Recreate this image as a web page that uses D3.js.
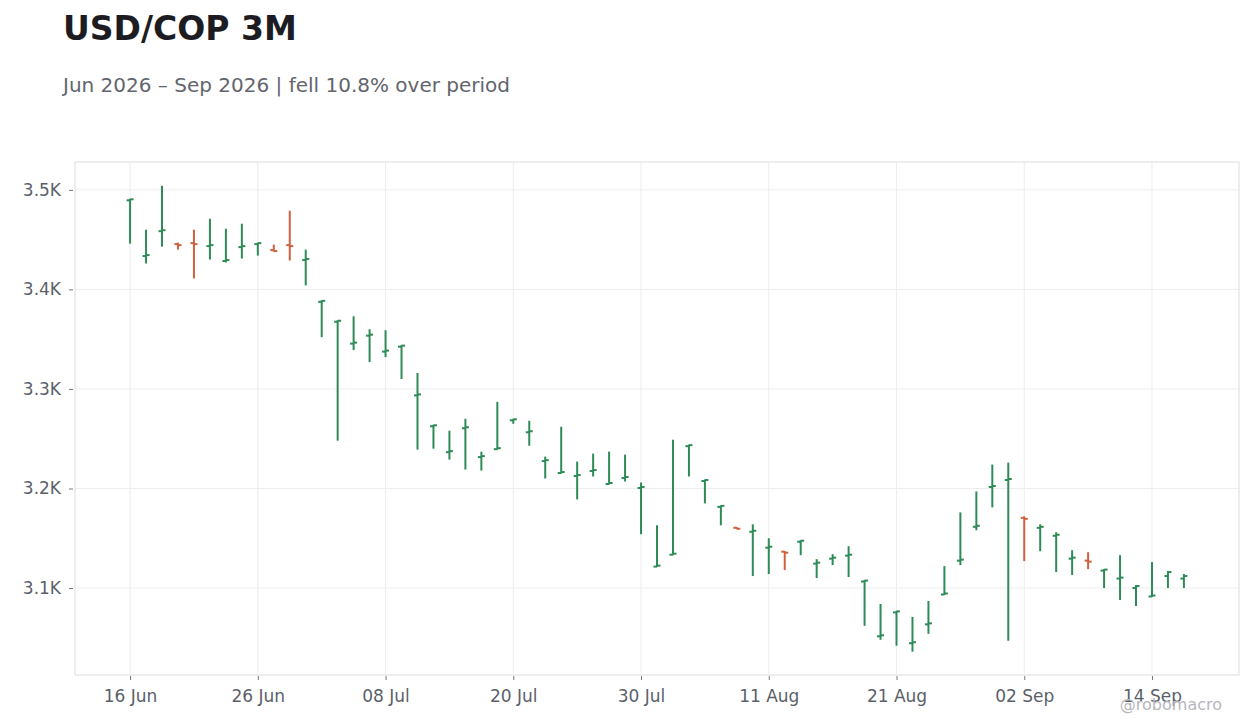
<!DOCTYPE html>
<html>
<head>
<meta charset="utf-8">
<script src="https://cdn.jsdelivr.net/npm/d3@7"></script>
<style>
  body { margin: 0; background: #fff; }
  text { font-family: "DejaVu Sans", sans-serif; }
</style>
</head>
<body>
<div id="chart"></div>
<script>
const dates = [
  "2026-06-16","2026-06-17","2026-06-18","2026-06-19","2026-06-22","2026-06-23","2026-06-24","2026-06-25","2026-06-26",
  "2026-06-29","2026-06-30","2026-07-01","2026-07-02","2026-07-03","2026-07-06","2026-07-07","2026-07-08","2026-07-09",
  "2026-07-10","2026-07-13","2026-07-14","2026-07-15","2026-07-16","2026-07-17","2026-07-20","2026-07-21","2026-07-22",
  "2026-07-23","2026-07-24","2026-07-27","2026-07-28","2026-07-29","2026-07-30","2026-07-31","2026-08-03","2026-08-04",
  "2026-08-05","2026-08-06","2026-08-07","2026-08-10","2026-08-11","2026-08-12","2026-08-13","2026-08-14","2026-08-17",
  "2026-08-18","2026-08-19","2026-08-20","2026-08-21","2026-08-24","2026-08-25","2026-08-26","2026-08-27","2026-08-28",
  "2026-08-31","2026-09-01","2026-09-02","2026-09-03","2026-09-04","2026-09-07","2026-09-08","2026-09-09","2026-09-10",
  "2026-09-11","2026-09-14","2026-09-15","2026-09-16"
];
const open = [3489.5,3433.5,3458.5,3445.5,3446.5,3443.5,3428.5,3442.5,3445.5,3439.5,3444.5,3429.5,3387.5,3367.5,3345.5,3353.5,3337.5,
  3342.5,3293.5,3262.5,3236.5,3260.5,3231.5,3239.5,3268.5,3256.5,3227.5,3215.5,3212.5,3217.5,3204.5,3210.5,3200.5,3121.5,3133.5,
  3242.5,3207.5,3181.5,3160.5,3156.5,3140.5,3136.5,3146.5,3124.5,3129.5,3132.5,3106.5,3051.5,3075.5,3044.5,3063.5,3093.5,3127.5,
  3161.5,3201.5,3208.5,3170.5,3160.5,3152.5,3129.5,3127.5,3117.5,3109.5,3100,3091.5,3112,3109.5];
const high = [3491,3460,3504,3447,3460,3471,3461,3466,3447,3445,3479,3440,3389,3369,3373,3360,3359,3344,3316,3264,3258,3270,3237,
  3287,3270,3268,3232,3262,3227,3235,3237,3234,3206,3163,3249,3244,3209,3183,3161,3164,3150,3137,3148,3129,3134,3142,3108,3084,
  3077,3071,3087,3122,3176,3197,3224,3226,3172,3164,3156,3138,3136,3119,3133,3103,3126,3117,3114];
const low = [3446,3426,3443,3440,3411,3430,3427,3431,3434,3438,3429,3404,3352,3248,3339,3327,3332,3310,3239,3240,3229,3219,3218,
  3239,3265,3243,3210,3215,3189,3212,3204,3207,3154,3121,3133,3212,3185,3163,3159,3112,3114,3118,3133,3110,3123,3111,3062,3048,
  3042,3036,3054,3093,3123,3158,3181,3047,3127,3137,3116,3113,3119,3100,3088,3082,3091,3100,3100];
const close = [3490.5,3434.5,3459.5,3444.5,3445.5,3444.5,3429.5,3443.5,3446.5,3438.5,3443.5,3430.5,3388.5,3368.5,3346.5,3354.5,
  3338.5,3343.5,3294.5,3263.5,3237.5,3261.5,3232.5,3240.5,3269.5,3257.5,3228.5,3216.5,3213.5,3218.5,3205.5,3211.5,3201.5,3122.5,
  3134.5,3243.5,3208.5,3182.5,3159.5,3157.5,3141.5,3135.5,3147.5,3125.5,3130.5,3133.5,3107.5,3052.5,3076.5,3045.5,3064.5,3094.5,
  3128.5,3162.5,3202.5,3209.5,3169.5,3161.5,3153.5,3130.5,3126.5,3118.5,3110.5,3102,3092.5,3116,3112];
const yTicks = [3100, 3200, 3300, 3400, 3500];
const xTickEvery = 8;

const width = 1260, height = 728;
const plotL = 75, plotR = 1239, plotT = 162, plotB = 675;

const svg = d3.select('#chart').append('svg')
    .attr('width', width)
    .attr('height', height);

const x = d3.scalePoint().domain(dates).range([plotL, plotR]).padding(3.45);
const y = d3.scaleLinear().domain([3012.6, 3528]).range([plotB, plotT]);

const xTickVals = dates.filter((d, i) => i % xTickEvery === 0);
const parse = d3.utcParse('%Y-%m-%d');
const fmtDate = d3.utcFormat('%d %b');

// gridlines
svg.append('g').selectAll('line')
    .data(xTickVals).enter().append('line')
    .attr('x1', d => x(d)).attr('x2', d => x(d))
    .attr('y1', plotT).attr('y2', plotB)
    .attr('stroke', '#ededed').attr('stroke-width', 1);
svg.append('g').selectAll('line')
    .data(yTicks).enter().append('line')
    .attr('x1', plotL).attr('x2', plotR)
    .attr('y1', d => y(d)).attr('y2', d => y(d))
    .attr('stroke', '#ededed').attr('stroke-width', 1);

// plot frame
svg.append('rect')
    .attr('x', plotL).attr('y', plotT)
    .attr('width', plotR - plotL).attr('height', plotB - plotT)
    .attr('fill', 'none').attr('stroke', '#dddddd');

// axes
const xAxis = svg.append('g')
    .attr('transform', `translate(0,${plotB + 1})`)
    .call(d3.axisBottom(x).tickValues(xTickVals).tickSize(4).tickPadding(10)
      .tickFormat(d => fmtDate(parse(d))));
const yAxis = svg.append('g')
    .attr('transform', `translate(${plotL - 2},0)`)
    .call(d3.axisLeft(y).tickValues(yTicks).tickSize(4).tickPadding(8)
      .tickFormat(d => (d / 1000).toFixed(1) + 'K'));
[xAxis, yAxis].forEach(a => {
  a.select('.domain').remove();
  a.selectAll('line').attr('stroke', '#777');
  a.selectAll('text').attr('fill', '#5b5f6a').style('font-size', '17px')
    .style('font-family', '"DejaVu Sans", sans-serif');
});

// OHLC bars: left tick = open, right tick = close
const green = '#2e8b57', red = '#d0603f';
const tick = 3.5;
const bars = svg.append('g').selectAll('g')
    .data(dates).enter().append('g')
    .attr('stroke', (d, i) => close[i] >= open[i] ? green : red)
    .attr('stroke-width', 2);
bars.append('line')
    .attr('x1', d => x(d)).attr('x2', d => x(d))
    .attr('y1', (d, i) => y(high[i])).attr('y2', (d, i) => y(low[i]));
bars.append('line')
    .attr('x1', d => x(d) - tick).attr('x2', d => x(d))
    .attr('y1', (d, i) => y(open[i])).attr('y2', (d, i) => y(open[i]));
bars.append('line')
    .attr('x1', d => x(d)).attr('x2', d => x(d) + tick)
    .attr('y1', (d, i) => y(close[i])).attr('y2', (d, i) => y(close[i]));

// titles
svg.append('text')
    .attr('x', 63).attr('y', 40)
    .style('font-size', '33px').style('font-weight', 'bold')
    .attr('fill', '#1c1c22')
    .text('USD/COP 3M');
svg.append('text')
    .attr('x', 63).attr('y', 92)
    .style('font-size', '20px')
    .attr('fill', '#62656d')
    .text('Jun 2026 – Sep 2026 | fell 10.8% over period');

// watermark
svg.append('text')
    .attr('x', 1222).attr('y', 710)
    .attr('text-anchor', 'end')
    .style('font-size', '16px')
    .attr('fill', '#b6b6bd')
    .text('@robomacro');
</script>
</body>
</html>
